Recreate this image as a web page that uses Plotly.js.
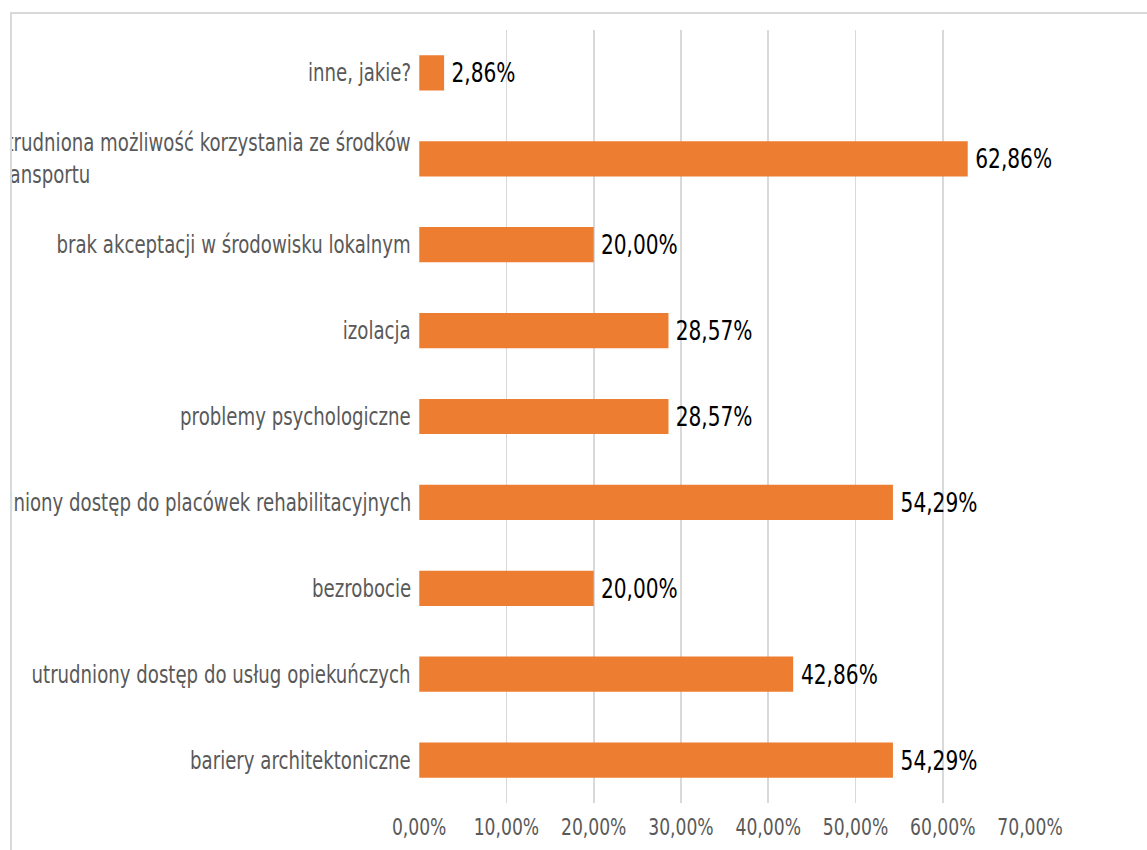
<!DOCTYPE html>
<html>
<head>
<meta charset="utf-8">
<script src="https://cdn.plot.ly/plotly-3.0.1.min.js"></script>
<style>
  html, body { margin: 0; padding: 0; background: #fff; }
  #wrap { position: absolute; left: 0; top: 0; width: 1147px; height: 850px; overflow: hidden; background: #fff; }
  #frame { position: absolute; left: 10px; top: 12px; width: 1137px; height: 838px;
           border-left: 2px solid #d9d9d9; border-top: 2px solid #d9d9d9; overflow: hidden; }
  #plot { position: absolute; left: -12px; top: -14px; transform-origin: 0 0; }
</style>
</head>
<body>
<div id="wrap"><div id="frame"><div id="plot"></div></div></div>
<script>
// Categories, bottom to top (as drawn)
const categories = [
  "bariery architektoniczne",
  "utrudniony dostęp do usług opiekuńczych",
  "bezrobocie",
  "utrudniony dostęp do placówek rehabilitacyjnych",
  "problemy psychologiczne",
  "izolacja",
  "brak akceptacji w środowisku lokalnym",
  "utrudniona możliwość korzystania ze środków transportu",
  "inne, jakie?"
];
const categoryLabels = [
  "bariery architektoniczne",
  "utrudniony dostęp do usług opiekuńczych",
  "bezrobocie",
  "utrudniony dostęp do placówek rehabilitacyjnych",
  "problemy psychologiczne",
  "izolacja",
  "brak akceptacji w środowisku lokalnym",
  "utrudniona możliwość korzystania ze środków<br>transportu",
  "inne, jakie?"
];
const values = [54.29, 42.86, 20.00, 54.29, 28.57, 28.57, 20.00, 62.86, 2.86];
const xTicks = [0, 10, 20, 30, 40, 50, 60, 70];

const FONT = "'Liberation Sans Narrow', 'DejaVu Sans Condensed', 'Arial Narrow', sans-serif";

// horizontal condensation of the whole drawing (narrow-font look)
const SX = 0.83;
const W = 1147 / SX, H = 850;
const plotDiv = document.getElementById("plot");
plotDiv.style.width = W + "px";
plotDiv.style.height = H + "px";
plotDiv.style.transform = "scaleX(" + SX + ")";

const trace = {
  type: "bar",
  orientation: "h",
  x: values,
  y: categories,
  marker: { color: "#ED7D31" },
  hoverinfo: "x+y"
};

const annotations = [];
categories.forEach((c, i) => {
  annotations.push({
    x: 0, y: c, xref: "x", yref: "y",
    text: categoryLabels[i],
    showarrow: false, xanchor: "right", yanchor: "middle", align: "left",
    xshift: -8,
    font: { family: FONT, size: 24.3, color: "#595959" }
  });
  annotations.push({
    x: values[i], y: c, xref: "x", yref: "y",
    text: values[i].toFixed(2).replace(".", ",") + "%",
    showarrow: false, xanchor: "left", yanchor: "middle",
    xshift: 7,
    font: { family: FONT, size: 27, color: "#000000" }
  });
});

const layout = {
  width: W,
  height: H,
  margin: { l: 419 / SX, r: 117 / SX, t: 30, b: 47, pad: 0 },
  paper_bgcolor: "#ffffff",
  plot_bgcolor: "#ffffff",
  separators: ",.",
  showlegend: false,
  bargap: 0.59,
  font: { family: FONT, color: "#595959" },
  xaxis: {
    range: [0, 70],
    tickvals: xTicks,
    ticktext: xTicks.map(v => v.toFixed(2).replace(".", ",") + "%"),
    showgrid: true,
    gridcolor: "#d9d9d9",
    gridwidth: 2.2,
    zeroline: false,
    showline: false,
    ticks: "",
    ticklabelstandoff: 8,
    fixedrange: true,
    tickfont: { family: FONT, size: 23, color: "#595959" }
  },
  yaxis: {
    type: "category",
    categoryorder: "array",
    categoryarray: categories,
    showticklabels: false,
    showgrid: false,
    zeroline: false,
    showline: false,
    ticks: "",
    fixedrange: true
  },
  annotations: annotations
};

Plotly.newPlot("plot", [trace], layout, { displayModeBar: false, staticPlot: true });
</script>
</body>
</html>
